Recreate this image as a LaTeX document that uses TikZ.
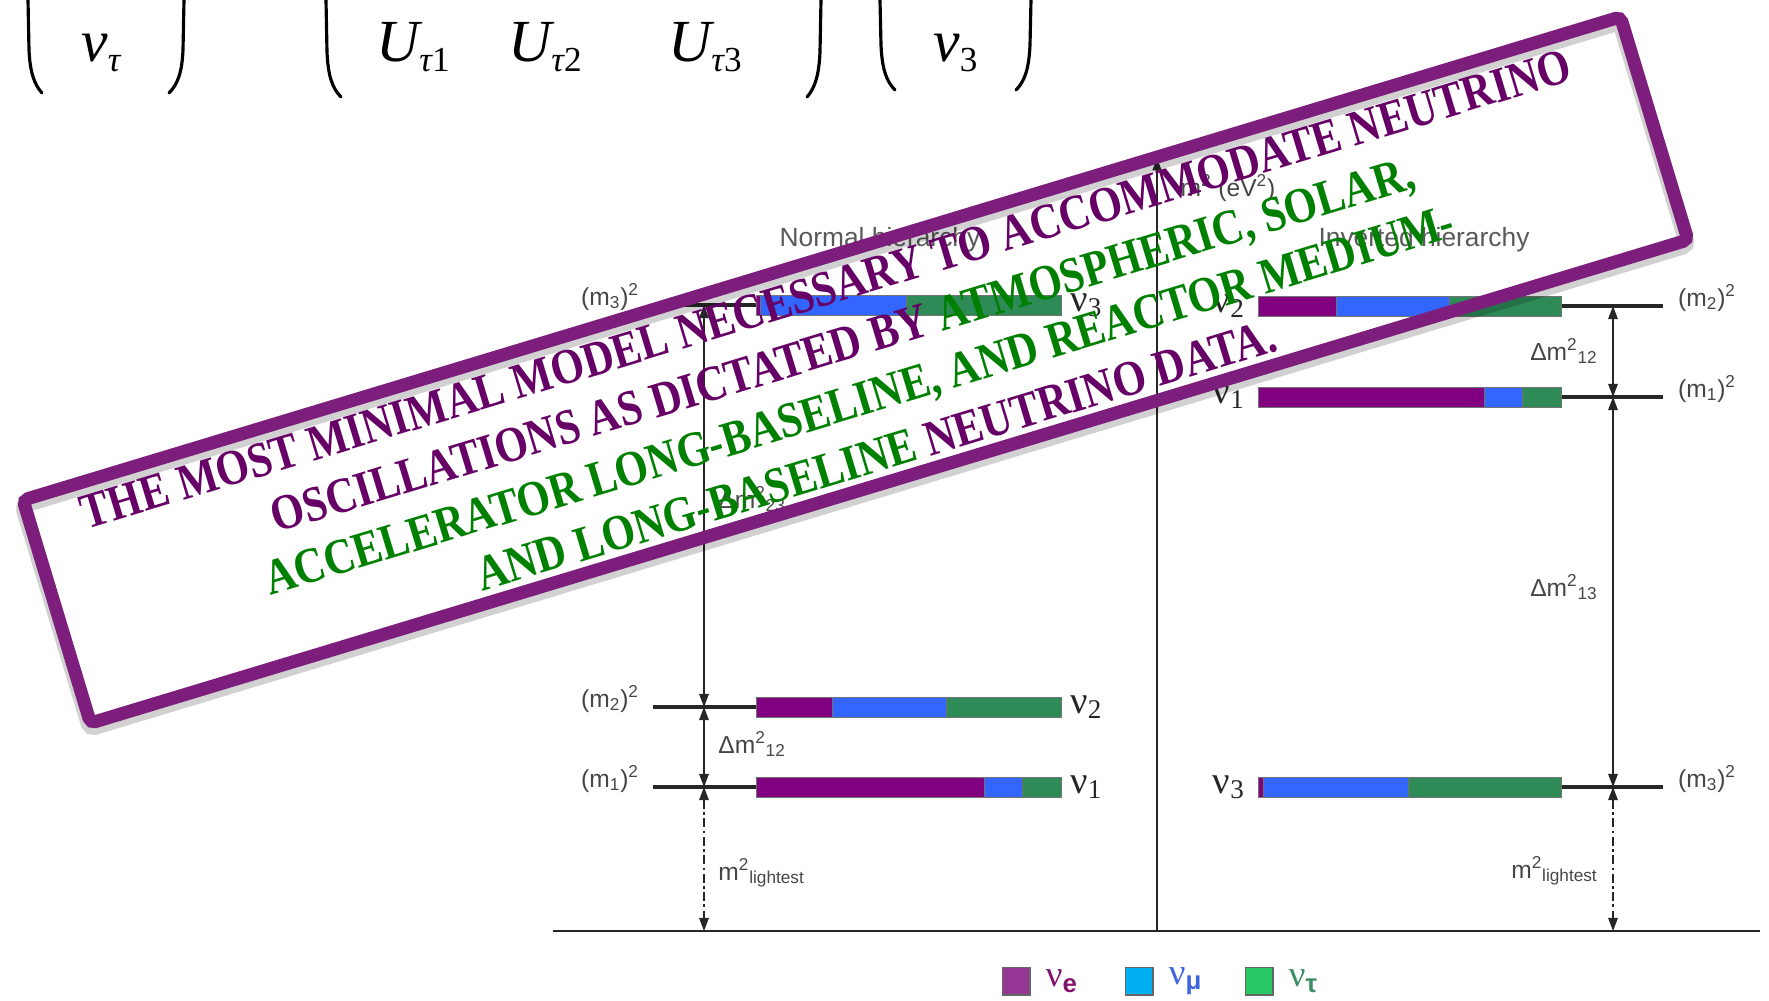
\documentclass[tikz,border=0pt]{standalone}
\usepackage{fontspec}
\setmainfont{Liberation Serif}
\newfontfamily\figsans{Liberation Sans}
\usetikzlibrary{arrows.meta, positioning}
\definecolor{nuepurple}{RGB}{128,0,128}
\definecolor{numublue}{RGB}{51,102,255}
\definecolor{nutaugreen}{RGB}{46,139,87}
\definecolor{keypurple}{RGB}{150,55,150}
\definecolor{keyblue}{RGB}{0,176,240}
\definecolor{keygreen}{RGB}{40,200,100}
\definecolor{stampframe}{RGB}{125,30,125}
\definecolor{stampplum}{RGB}{102,0,102}
\definecolor{stampgreen}{RGB}{0,128,0}
\definecolor{figgray}{RGB}{70,70,70}
\newcommand{\lowidx}[1]{\raisebox{-6pt}{\fontsize{20}{20}\selectfont#1}}
\tikzset{
    paren/.style={line width=1.8pt, line cap=round},
    mentry/.style={font=\fontsize{34}{36}\selectfont\itshape, anchor=base west, inner sep=0pt},
    masslevel/.style={line width=2pt, black!85},
    seg/.style={draw=black!55, line width=0.5pt},
    dmarrow/.style={{Triangle[length=7.5pt,width=5.5pt]}-{Triangle[length=7.5pt,width=5.5pt]}, line width=0.6pt, black!85},
    lightarrow/.style={dmarrow, dash pattern=on 5pt off 2pt on 1.5pt off 2pt},
    axisline/.style={-{Triangle[length=7pt,width=5pt]}, line width=1pt, black!85},
    msq/.style={font=\figsans\fontsize{14}{16}\selectfont, text=figgray, inner sep=0pt},
    hier/.style={msq, font=\figsans\fontsize{15}{17}\selectfont, text=black!65},
    nulbl/.style={font=\fontsize{22}{24}\selectfont, text=black!85, inner sep=0pt},
    keybox/.style={draw=black!60, line width=0.6pt, minimum size=15.9pt, inner sep=0pt},
    keynu/.style={font=\fontsize{21}{24}\selectfont, inner sep=0pt},
    stampbox/.style={draw=stampframe, line width=7.4pt, rounded corners=3pt},
    stampshade/.style={draw=black, opacity=0.18, line width=9pt, rounded corners=3pt},
    stamptext/.style={font=\bfseries\fontsize{28.5}{33}\selectfont, align=center, inner sep=0pt,
                      transform shape, xscale=0.85},
}

\begin{document}
\begin{tikzpicture}[x=0.02cm, y=0.02cm]
    \useasboundingbox (0,0) rectangle (1769,-1001);
    % mixing matrix, lower row only
    \draw[paren] (28,0) -- (29,-50) .. controls (30,-72) and (34,-84) .. (42,-93);
    \draw[paren] (184,0) -- (183,-50) .. controls (182,-72) and (178,-84) .. (169,-93);
    \draw[paren] (326,0) -- (327,-52) .. controls (328,-75) and (332,-88) .. (341,-97);
    \draw[paren] (821,0) -- (820,-52) .. controls (819,-75) and (815,-88) .. (807,-97);
    \draw[paren] (880,0) -- (881,-45) .. controls (882,-68) and (886,-81) .. (895,-90);
    \draw[paren] (1031,0) -- (1030,-45) .. controls (1029,-68) and (1025,-81) .. (1016,-90);
    \node[mentry] (nutau) at (81,-61) {ν\lowidx{τ}};
    \node[mentry] (ut1) at (376,-61) {U\lowidx{τ\upshape 1}};
    \node[mentry] (ut2) at (508,-61) {U\lowidx{τ\upshape 2}};
    \node[mentry] (ut3) at (668,-61) {U\lowidx{τ\upshape 3}};
    \node[mentry] (nu3m) at (933,-61) {ν\lowidx{\upshape 3}};

    % axes
    \coordinate (origin) at (1157,-931);
    \coordinate (top) at (1157,-158);
    \draw[axisline] (origin) -- (top);
    \draw[line width=1.5pt, black!85] (553,-931) -- (1760,-931);
    \node[msq] (unit) at (1228,-188) {m\textsuperscript{2} (eV\textsuperscript{2})};
    \node[hier] (normal) at (880,-240) {Normal hierarchy};
    \node[hier] (inverted) at (1424,-240) {Inverted hierarchy};

    % mass levels
    \foreach \yy in {-305,-707,-787}
        \draw[masslevel] (653,\yy) -- (756,\yy);
    \foreach \yy in {-306,-397,-787}
        \draw[masslevel] (1561,\yy) -- (1663,\yy);

    % flavour content of each state
    \foreach \yy/\xa/\xb/\xc/\xd in {-305/756/760/906/1061, -707/756/832/946/1061, -787/756/984/1022/1061,
                                     -306/1258/1336/1449/1561, -397/1258/1484/1522/1561, -787/1258/1263/1408/1561} {
        \filldraw[seg, fill=nuepurple] (\xa,\yy-10) rectangle (\xb,\yy+10);
        \filldraw[seg, fill=numublue] (\xb,\yy-10) rectangle (\xc,\yy+10);
        \filldraw[seg, fill=nutaugreen] (\xc,\yy-10) rectangle (\xd,\yy+10);
    }

    % normal hierarchy
    \coordinate (n3) at (704,-305);
    \coordinate (n2) at (704,-707);
    \coordinate (n1) at (704,-787);
    \coordinate (n0) at (704,-931);
    \draw[dmarrow] (n3) -- (n2);
    \draw[dmarrow] (n2) -- (n1);
    \draw[lightarrow] (n1) -- (n0);
    \node[msq, anchor=base] (nm3) at (610,-305) {(m\textsubscript{3})\textsuperscript{2}};
    \node[msq, anchor=base] (nm2) at (610,-707) {(m\textsubscript{2})\textsuperscript{2}};
    \node[msq, anchor=base] (nm1) at (610,-787) {(m\textsubscript{1})\textsuperscript{2}};
    \node[msq, anchor=base west] (nd23) at (718,-508) {Δm\textsuperscript{2}\textsubscript{23}};
    \node[msq, anchor=base west] (nd12) at (718,-753) {Δm\textsuperscript{2}\textsubscript{12}};
    \node[msq, anchor=base west] (nlight) at (718,-880) {m\textsuperscript{2}\textsubscript{lightest}};
    \node[nulbl, anchor=base west] (nnu3) at (1070,-311) {ν\textsubscript{3}};
    \node[nulbl, anchor=base west] (nnu2) at (1070,-713) {ν\textsubscript{2}};
    \node[nulbl, anchor=base west] (nnu1) at (1070,-793) {ν\textsubscript{1}};

    % inverted hierarchy
    \coordinate (i2) at (1613,-306);
    \coordinate (i1) at (1613,-397);
    \coordinate (i3) at (1613,-787);
    \coordinate (i0) at (1613,-931);
    \draw[dmarrow] (i2) -- (i1);
    \draw[dmarrow] (i1) -- (i3);
    \draw[lightarrow] (i3) -- (i0);
    \node[msq, anchor=base] (im2) at (1707,-306) {(m\textsubscript{2})\textsuperscript{2}};
    \node[msq, anchor=base] (im1) at (1707,-397) {(m\textsubscript{1})\textsuperscript{2}};
    \node[msq, anchor=base] (im3) at (1707,-787) {(m\textsubscript{3})\textsuperscript{2}};
    \node[msq, anchor=base east] (id12) at (1598,-360) {Δm\textsuperscript{2}\textsubscript{12}};
    \node[msq, anchor=base east] (id13) at (1598,-596) {Δm\textsuperscript{2}\textsubscript{13}};
    \node[msq, anchor=base east] (ilight) at (1598,-878) {m\textsuperscript{2}\textsubscript{lightest}};
    \node[nulbl, anchor=base east] (inu2) at (1245,-312) {ν\textsubscript{2}};
    \node[nulbl, anchor=base east] (inu1) at (1245,-403) {ν\textsubscript{1}};
    \node[nulbl, anchor=base east] (inu3) at (1245,-793) {ν\textsubscript{3}};

    % flavour key
    \node[keybox, fill=keypurple] (ke) at (1016,-981) {};
    \node[keybox, fill=keyblue] (kmu) at (1139,-981) {};
    \node[keybox, fill=keygreen] (ktau) at (1259,-981) {};
    \node[keynu, right=0.3cm of ke, text={rgb,255:red,130;green,20;blue,110}] (le) {ν\textsubscript{\figsans\bfseries e}};
    \node[keynu, right=0.3cm of kmu, text={rgb,255:red,60;green,100;blue,220}] (lmu) {ν\textsubscript{\figsans\bfseries μ}};
    \node[keynu, right=0.3cm of ktau, text={rgb,255:red,60;green,140;blue,100}] (ltau) {ν\textsubscript{\figsans\bfseries τ}};

    % stamp across the figure
    \begin{scope}[shift={(855.5,-370)}, rotate=16.83]
        \draw[stampshade, shift={(-2,-5)}] (-834.5,-116.5) rectangle (834.5,116.5);
        \draw[stampbox] (-834.5,-116.5) rectangle (834.5,116.5);
        \node[stamptext] (claim) at (-5,-1) {%
            \textcolor{stampplum}{THE MOST MINIMAL MODEL NECESSARY TO ACCOMMODATE NEUTRINO}\\
            \textcolor{stampplum}{OSCILLATIONS AS DICTATED BY} \textcolor{stampgreen}{ATMOSPHERIC, SOLAR,}\\
            \textcolor{stampgreen}{ACCELERATOR LONG-BASELINE, AND REACTOR MEDIUM-}\\
            \textcolor{stampgreen}{AND LONG-BASELINE} \textcolor{stampplum}{NEUTRINO DATA.}};
    \end{scope}
\end{tikzpicture}
\end{document}
